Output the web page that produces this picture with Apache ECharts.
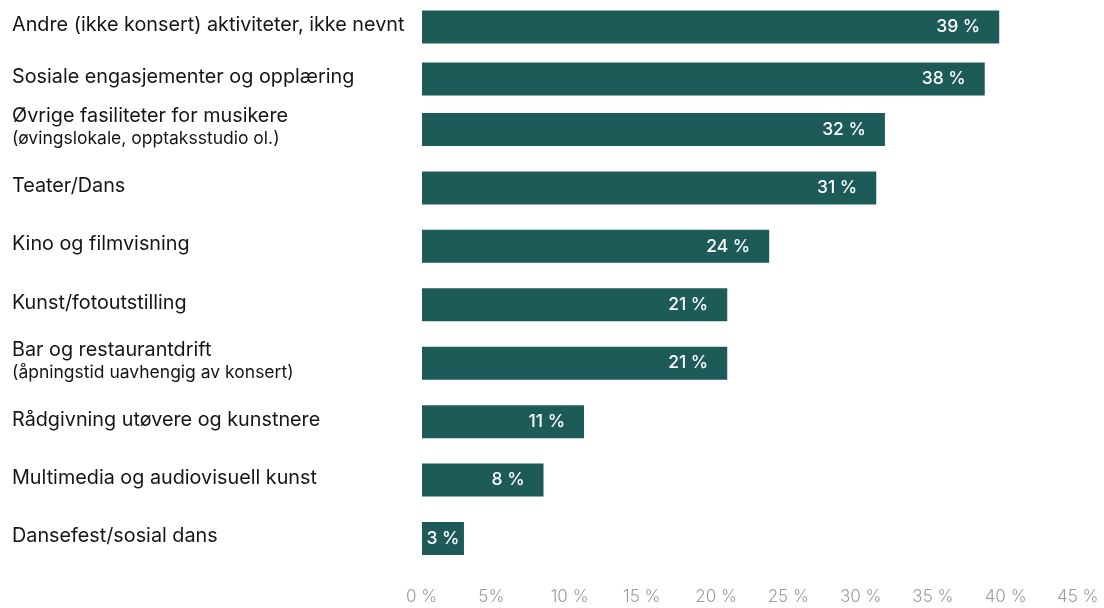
<!DOCTYPE html>
<html>
<head>
<meta charset="utf-8">
<script src="https://cdn.jsdelivr.net/npm/echarts@6/dist/echarts.min.js"></script>
<style>
html,body{margin:0;padding:0;background:#fff;}
#chart{width:1104px;height:608px;}
</style>
</head>
<body>
<div id="chart"></div>
<script>
const categories = [
  'Andre (ikke konsert) aktiviteter, ikke nevnt',
  'Sosiale engasjementer og opplæring',
  'Øvrige fasiliteter for musikere\n(øvingslokale, opptaksstudio ol.)',
  'Teater/Dans',
  'Kino og filmvisning',
  'Kunst/fotoutstilling',
  'Bar og restaurantdrift\n(åpningstid uavhengig av konsert)',
  'Rådgivning utøvere og kunstnere',
  'Multimedia og audiovisuell kunst',
  'Dansefest/sosial dans'
];
const values = [39.9, 38.9, 32.0, 31.4, 24.0, 21.1, 21.1, 11.2, 8.4, 2.9];
const valueLabels = ['39 %', '38 %', '32 %', '31 %', '24 %', '21 %', '21 %', '11 %', '8 %', '3 %'];
const xTickLabels = ['0 %', '5%', '10 %', '15 %', '20 %', '25 %', '30 %', '35 %', '40 %', '45 %'];

const SPLIT = 2;
const BAR = '#1d5b59';
const FONT = 'Inter, "Noto Sans", sans-serif';

function catFormatter(v) {
  const parts = v.split('\n');
  return parts[1] ? '{m|' + parts[0] + '}\n{s|' + parts[1] + '}' : '{m|' + parts[0] + '}';
}
const yLabel = {
  align: 'left',
  margin: 410,
  padding: [0, 0, 4, 0],
  formatter: catFormatter,
  rich: {
    m: { fontFamily: FONT, fontSize: 19.8, color: '#151515', lineHeight: 23, align: 'left' },
    s: { fontFamily: FONT, fontSize: 17.5, color: '#151515', lineHeight: 22, align: 'left' }
  }
};
function makeSeries(offset, vals, idx) {
  return {
    type: 'bar',
    xAxisIndex: idx, yAxisIndex: idx,
    barWidth: 33,
    itemStyle: { color: BAR },
    data: vals.map(v => v < 5 ? { value: v, label: { position: 'inside' } } : v),
    label: {
      show: true,
      position: 'insideRight',
      distance: 19,
      color: '#ffffff',
      fontFamily: FONT,
      fontSize: 17.5,
      fontWeight: 500,
      formatter: p => valueLabels[offset + p.dataIndex]
    },
    silent: true
  };
}
const xBase = { type: 'value', min: 0, max: 45, interval: 5, splitLine: { show: false }, axisLine: { show: false }, axisTick: { show: false } };

const option = {
  animation: false,
  backgroundColor: '#ffffff',
  grid: [
    { left: 422, right: 31, top: 1, height: 104 },
    { left: 422, right: 31, top: 100.3, height: 467.4 }
  ],
  xAxis: [
    Object.assign({}, xBase, { gridIndex: 0, axisLabel: { show: false } }),
    Object.assign({}, xBase, {
      gridIndex: 1,
      axisLabel: {
        show: true,
        margin: 21,
        formatter: v => '{t|' + xTickLabels[Math.round(v / 5)] + '}',
        rich: { t: { width: 32, align: 'left', fontFamily: FONT, fontSize: 17, fontWeight: 300, color: '#9b9b9b' } }
      }
    })
  ],
  yAxis: [
    { type: 'category', gridIndex: 0, inverse: true, data: categories.slice(0, SPLIT), axisLine: { show: false }, axisTick: { show: false }, axisLabel: yLabel },
    { type: 'category', gridIndex: 1, inverse: true, data: categories.slice(SPLIT), axisLine: { show: false }, axisTick: { show: false }, axisLabel: yLabel }
  ],
  series: [
    makeSeries(0, values.slice(0, SPLIT), 0),
    makeSeries(SPLIT, values.slice(SPLIT), 1)
  ]
};
const chart = echarts.init(document.getElementById('chart'), null, { renderer: 'canvas' });
chart.setOption(option);
</script>
</body>
</html>
